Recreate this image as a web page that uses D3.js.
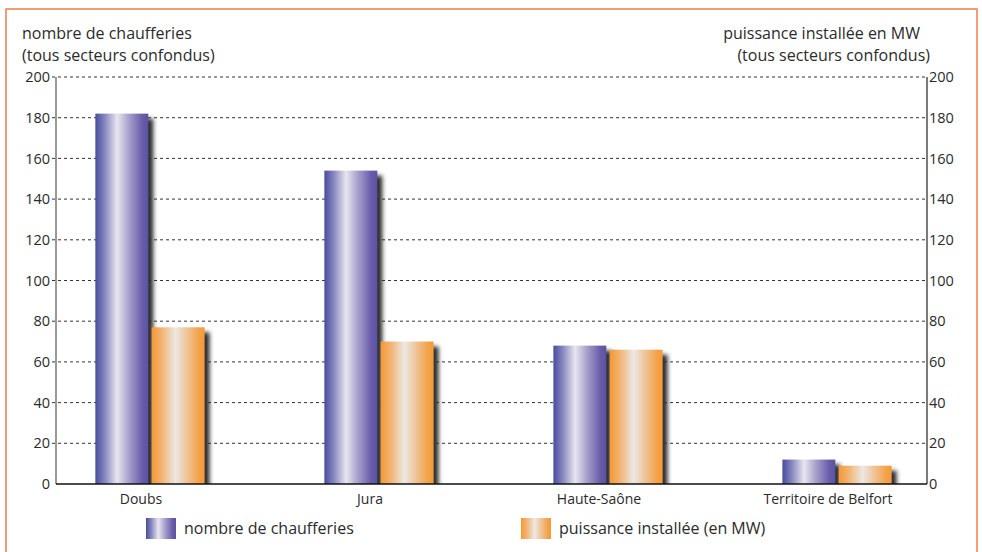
<html>
<meta charset="utf-8" />
<head>
<title>Chaufferies bois - Franche-Comté</title>
<style>
body { margin: 0; background: #fff; }
svg { display: block; }
svg text { font-family: "Open Sans", sans-serif; fill: #2b2b2b; }
.axis path { display: none; }
.axis line { stroke: none; }
.axis text { font-size: 14.5px; fill: #2b2b2b; }
</style>
<script src="https://cdn.jsdelivr.net/npm/d3@7/dist/d3.min.js" charset="utf-8"></script>
</head>
<body>
<svg class="chart"></svg>

<script>
var chartWidth = 982;
var chartHeight = 552;

/********
 * Data *
 ********/

var categories = ["Doubs", "Jura", "Haute-Saône", "Territoire de Belfort"];
var chaufferies = [182, 154, 68, 12];
var puissance = [77, 70, 66, 9];
var seriesNames = ["nombre de chaufferies", "puissance installée (en MW)"];
var yTicks = [0, 20, 40, 60, 80, 100, 120, 140, 160, 180, 200];

/**********
 * Scales *
 **********/
var x0, x1, y, yRight;

var plotLeft = 56, plotRight = 927;

function makeChart() {

  var rows = categories.map(function(c, i) {
    return { cat: c, values: [chaufferies[i], puissance[i]] };
  });

  y = d3.scaleLinear().domain([0, 200]).range([484, 77]);
  yRight = d3.scaleLinear().domain([0, 200]).range([484, 77]);

  x0 = d3.scaleBand()
      .domain(categories)
      .range([61, 926])
      .paddingInner(0.523)
      .paddingOuter(0.15);

  x1 = d3.scaleBand()
      .domain([0, 1])
      .range([0, x0.bandwidth()])
      .paddingInner(0.06);

  var svg = d3.select(".chart")
      .attr("width", chartWidth)
      .attr("height", chartHeight);

  var defs = svg.append("defs");

  // bar gradients
  var grads = [
    { id: "gradBlue", stops: [[0, "#474c9e"], [0.18, "#8788c0"], [0.41, "#e8e6ef"], [0.62, "#aaa4cd"], [0.88, "#6a5daa"], [1, "#5a52a2"]] },
    { id: "gradOrange", stops: [[0, "#f59832"], [0.2, "#f2b576"], [0.45, "#ece8e4"], [0.66, "#efc59a"], [0.9, "#f4a147"], [1, "#f59b3a"]] }
  ];
  grads.forEach(function(g) {
    var lg = defs.append("linearGradient").attr("id", g.id)
        .attr("x1", "0%").attr("x2", "100%").attr("y1", "0%").attr("y2", "0%");
    g.stops.forEach(function(s) {
      lg.append("stop").attr("offset", s[0]).attr("stop-color", s[1]);
    });
  });
  var fills = ["url(#gradBlue)", "url(#gradOrange)"];

  var blur = defs.append("filter").attr("id", "shadow")
      .attr("x", "-20%").attr("y", "-20%").attr("width", "160%").attr("height", "160%");
  blur.append("feGaussianBlur").attr("stdDeviation", 2.3);

  defs.append("clipPath").attr("id", "plotClip")
    .append("rect")
      .attr("x", plotLeft).attr("y", 0)
      .attr("width", plotRight - plotLeft).attr("height", y(0));

  // frame
  svg.append("rect")
      .attr("x", 6).attr("y", 9)
      .attr("width", 971).attr("height", 560)
      .attr("fill", "none")
      .attr("stroke", "#f07e4c")
      .attr("stroke-width", 1.5);

  // grid
  svg.append("g").selectAll("line")
      .data(yTicks.filter(function(d) { return d > 0; }))
      .enter().append("line")
      .attr("x1", plotLeft - 4).attr("x2", plotRight)
      .attr("y1", function(d) { return y(d); })
      .attr("y2", function(d) { return y(d); })
      .attr("stroke", "#333")
      .attr("stroke-width", 1)
      .attr("stroke-dasharray", "3,3");

  // bars
  var plot = svg.append("g").attr("clip-path", "url(#plotClip)");

  var groups = plot.selectAll(".group")
      .data(rows)
      .enter().append("g")
      .attr("class", "group")
      .attr("transform", function(d) { return "translate(" + x0(d.cat) + ",0)"; });

  groups.each(function(d) {
    var g = d3.select(this);
    d.values.forEach(function(v, i) {
      g.append("rect")
          .attr("x", x1(i) + 5)
          .attr("y", y(v) + 5)
          .attr("width", x1.bandwidth())
          .attr("height", y(0) - y(v))
          .attr("fill", "#2e2e2e")
          .attr("filter", "url(#shadow)");
      g.append("rect")
          .attr("x", x1(i))
          .attr("y", y(v))
          .attr("width", x1.bandwidth())
          .attr("height", y(0) - y(v))
          .attr("fill", fills[i]);
    });
  });

  // axes lines
  svg.append("line")
      .attr("x1", plotLeft).attr("x2", plotLeft)
      .attr("y1", y(200)).attr("y2", y(0))
      .attr("stroke", "#777").attr("stroke-width", 1.5);
  svg.append("line")
      .attr("x1", plotRight).attr("x2", plotRight)
      .attr("y1", y(200)).attr("y2", y(0))
      .attr("stroke", "#222").attr("stroke-width", 1.2);
  svg.append("line")
      .attr("x1", plotLeft).attr("x2", plotRight)
      .attr("y1", y(0)).attr("y2", y(0))
      .attr("stroke", "#111").attr("stroke-width", 1.5);

  var yAxis = d3.axisLeft(y).tickValues(yTicks).tickSize(0).tickPadding(6);
  svg.append("g").attr("class", "axis")
      .attr("transform", "translate(" + plotLeft + ",0)")
      .call(yAxis);

  var yAxisRight = d3.axisRight(yRight).tickValues(yTicks).tickSize(0).tickPadding(2);
  svg.append("g").attr("class", "axis")
      .attr("transform", "translate(" + plotRight + ",0)")
      .call(yAxisRight);

  var xAxis = d3.axisBottom(x0).tickSize(0).tickPadding(10);
  var xg = svg.append("g").attr("class", "axis")
      .attr("transform", "translate(0," + y(0) + ")")
      .call(xAxis);
  xg.selectAll("text").attr("dx", -9).style("font-size", "14px");

  // titles
  var tl = svg.append("text").attr("x", 22).attr("y", 39).style("font-size", "16px");
  tl.append("tspan").attr("x", 22).text("nombre de chaufferies");
  tl.append("tspan").attr("x", 22).attr("dy", 22).text("(tous secteurs confondus)");

  var tr = svg.append("text").attr("y", 39).style("font-size", "16px").attr("text-anchor", "end");
  tr.append("tspan").attr("x", 920).text("puissance installée en MW");
  tr.append("tspan").attr("x", 930).attr("dy", 22).text("(tous secteurs confondus)");

  // legend
  var legendX = [146, 521];
  var legend = svg.selectAll(".legend")
      .data(seriesNames)
      .enter().append("g")
      .attr("class", "legend")
      .attr("transform", function(d, i) { return "translate(" + legendX[i] + ",518)"; });
  legend.append("rect")
      .attr("width", 30).attr("height", 21)
      .attr("fill", function(d, i) { return fills[i]; });
  legend.append("text")
      .attr("x", 38).attr("y", 15.5)
      .style("font-size", "16px")
      .text(function(d) { return d; });
}

makeChart();
</script>
</body>
</html>
